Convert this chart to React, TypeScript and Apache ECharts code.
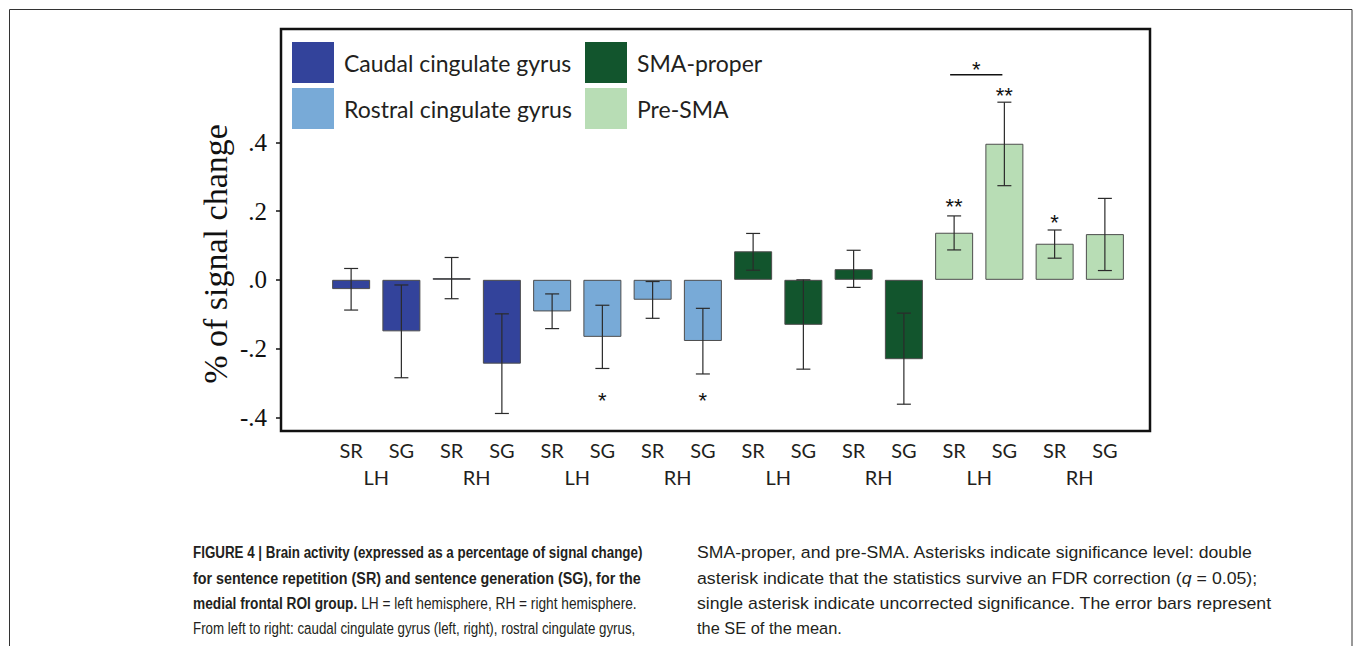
import React, { useEffect, useRef } from "react";
import * as echarts from "echarts";

const categories = ["SR", "SG", "SR", "SG", "SR", "SG", "SR", "SG", "SR", "SG", "SR", "SG", "SR", "SG", "SR", "SG"];
const hemispheres = ["LH", "RH", "LH", "RH", "LH", "RH", "LH", "RH"];
const regions = ["Caudal cingulate gyrus", "Rostral cingulate gyrus", "SMA-proper", "Pre-SMA"];
const regionOfBar = [0, 0, 0, 0, 1, 1, 1, 1, 2, 2, 2, 2, 3, 3, 3, 3];
const meanValues = [-0.027, -0.15, 0.005, -0.244, -0.092, -0.166, -0.058, -0.178, 0.083, -0.131, 0.031, -0.231, 0.137, 0.396, 0.105, 0.133];
const errLower = [-0.088, -0.285, -0.055, -0.389, -0.142, -0.258, -0.112, -0.274, 0.028, -0.26, -0.022, -0.362, 0.087, 0.274, 0.063, 0.027];
const errUpper = [0.033, -0.015, 0.065, -0.099, -0.041, -0.074, -0.005, -0.083, 0.135, 0.0, 0.086, -0.097, 0.186, 0.517, 0.145, 0.237];
const annotIndex = [5, 7, 12, 13, 14];
const annotValue = [-0.338, -0.338, 0.228, 0.55, 0.181];
const annotText = ["*", "*", "**", "**", "*"];
const bracketFrom = [12];
const bracketTo = [13];
const bracketValue = [0.597];
const bracketLabelValue = [0.628];
const bracketText = ["*"];
const yTickValues = [-0.4, -0.2, 0, 0.2, 0.4];
const yTickLabels = ["-.4", "-.2", ".0", ".2", ".4"];
const yMin = -0.44;
const yMax = 0.73;

// caption: each line is a list of [style, text] segments (b = bold, n = normal, i = italic)
const captionLeft: [string, string][][] = [
  [["b", "FIGURE 4 | Brain activity (expressed as a percentage of signal change)"]],
  [["b", "for sentence repetition (SR) and sentence generation (SG), for the"]],
  [["b", "medial frontal ROI group."], ["n", " LH = left hemisphere, RH = right hemisphere."]],
  [["n", "From left to right: caudal cingulate gyrus (left, right), rostral cingulate gyrus,"]],
];
const captionRight: [string, string][][] = [
  [["n", "SMA-proper, and pre-SMA. Asterisks indicate significance level: double"]],
  [["n", "asterisk indicate that the statistics survive an FDR correction ("], ["i", "q"], ["n", " = 0.05);"]],
  [["n", "single asterisk indicate uncorrected significance. The error bars represent"]],
  [["n", "the SE of the mean."]],
];

const regionColors = ["#33439b", "#78aad7", "#12552d", "#b8ddb5"];
const SANS = "Lato, 'Noto Sans', sans-serif";
const SERIF = "'Liberation Serif', 'DejaVu Serif', serif";
const CAP = "'Liberation Sans', Arial, sans-serif";
const CAP_SIZE = 17;
const INK = "#231f20";

const capLeftX = 193;
const capRightX = 697;
const capLeftEnds = [643, 641, 637, 636];
const capRightEnds = [1253, 1257, 1272, 842];
const capLineY = [552, 578, 603, 628];

function segFont(s: string) {
  if (s === "b") return `bold ${CAP_SIZE}px ${CAP}`;
  if (s === "i") return `italic ${CAP_SIZE}px ${CAP}`;
  return `${CAP_SIZE}px ${CAP}`;
}

let measureCtx: CanvasRenderingContext2D | null = null;
function measureLine(segs: [string, string][]) {
  if (!measureCtx) measureCtx = document.createElement("canvas").getContext("2d");
  let w = 0;
  for (const [s, t] of segs) {
    measureCtx!.font = segFont(s);
    w += measureCtx!.measureText(t).width;
  }
  return w;
}

function captionElements(lines: [string, string][][], x0: number, ends: number[]) {
  return lines.map((segs, k) => {
    const natural = measureLine(segs);
    const sx = natural > 0 ? (ends[k] - x0) / natural : 1;
    return {
      type: "text",
      x: x0,
      y: capLineY[k],
      scaleX: sx,
      silent: true,
      style: {
        text: segs.map(([s, t]) => `{${s}|${t}}`).join(""),
        align: "left",
        verticalAlign: "middle",
        rich: {
          b: { fontFamily: CAP, fontWeight: "bold", fontSize: CAP_SIZE, fill: INK },
          n: { fontFamily: CAP, fontSize: CAP_SIZE, fill: INK },
          i: { fontFamily: CAP, fontStyle: "italic", fontSize: CAP_SIZE, fill: INK },
        },
      },
    };
  });
}

export default function App() {
  const ref = useRef<HTMLDivElement>(null);
  useEffect(() => {
    if (!ref.current) return;
    const chart = echarts.init(ref.current, undefined, { renderer: "svg" });

    const barSeries = regions.map((name, r) => ({
      name,
      type: "bar",
      xAxisIndex: 0,
      yAxisIndex: 0,
      barWidth: 38,
      barGap: "-100%",
      data: meanValues.map((v, i) => (regionOfBar[i] === r ? v : "-")),
      itemStyle: { color: regionColors[r], borderColor: "#4d4d4d", borderWidth: 1 },
      z: 2,
    }));

    const errData = meanValues.map((_, i) => [i, errLower[i], errUpper[i]]);
    const annotData = annotIndex.map((i, k) => [i, annotValue[k], annotText[k]]);
    const bracketData = bracketFrom.map((f, k) => [f, bracketTo[k], bracketValue[k], bracketLabelValue[k], bracketText[k]]);
    const starFont = `22px 'Liberation Sans', Arial, sans-serif`;

    const legendCommon = {
      orient: "vertical",
      top: 42,
      padding: 0,
      itemWidth: 42,
      itemHeight: 41,
      itemGap: 5,
      icon: "rect",
      itemStyle: { borderWidth: 0 },
      textStyle: { fontFamily: SANS, fontSize: 23, color: INK, padding: [0, 0, 0, 5] },
      selectedMode: false,
    };

    const option: any = {
      animation: false,
      backgroundColor: "#fff",
      grid: [
        { left: 326, right: 228, top: 29, bottom: 215, show: false },
        { left: 281, right: 208, top: 29, bottom: 215, show: true, borderColor: "#111", borderWidth: 2.5, backgroundColor: "transparent" },
      ],
      legend: [
        { ...legendCommon, data: regions.slice(0, 2), left: 292 },
        { ...legendCommon, data: regions.slice(2, 4), left: 585 },
      ],
      xAxis: [
        {
          type: "category",
          gridIndex: 0,
          data: categories,
          position: "bottom",
          axisLine: { show: false },
          axisTick: { show: false },
          axisLabel: { fontFamily: SANS, fontSize: 20, color: INK, margin: 9 },
        },
        {
          type: "category",
          gridIndex: 0,
          data: hemispheres,
          position: "bottom",
          axisLine: { show: false },
          axisTick: { show: false },
          axisLabel: { fontFamily: SANS, fontSize: 20, color: INK, margin: 36 },
        },
        { type: "value", gridIndex: 1, min: 0, max: 1, show: false },
      ],
      yAxis: [
        { type: "value", gridIndex: 0, min: yMin, max: yMax, show: false },
        {
          type: "value",
          gridIndex: 1,
          min: yMin,
          max: yMax,
          axisLine: { show: false },
          splitLine: { show: false },
          axisTick: { show: true, length: 5, customValues: yTickValues, lineStyle: { color: "#111", width: 1.5 } },
          axisLabel: {
            customValues: yTickValues,
            fontFamily: SERIF,
            fontSize: 25,
            color: "#111",
            margin: 14,
            formatter: (v: number) => {
              const k = yTickValues.findIndex((t) => Math.abs(t - v) < 1e-6);
              return k >= 0 ? yTickLabels[k] : "";
            },
          },
        },
      ],
      series: [
        ...barSeries,
        {
          type: "custom",
          xAxisIndex: 0,
          yAxisIndex: 0,
          z: 5,
          data: errData,
          encode: { x: 0, y: [1, 2] },
          renderItem: (params: any, api: any) => {
            const i = api.value(0);
            const lo = api.coord([i, api.value(1)]);
            const hi = api.coord([i, api.value(2)]);
            const hw = 7;
            const st = { stroke: "#2b2b2b", lineWidth: 1.2 };
            return {
              type: "group",
              children: [
                { type: "line", shape: { x1: hi[0], y1: hi[1], x2: lo[0], y2: lo[1] }, style: st },
                { type: "line", shape: { x1: hi[0] - hw, y1: hi[1], x2: hi[0] + hw, y2: hi[1] }, style: st },
                { type: "line", shape: { x1: lo[0] - hw, y1: lo[1], x2: lo[0] + hw, y2: lo[1] }, style: st },
              ],
            };
          },
        },
        {
          type: "custom",
          xAxisIndex: 0,
          yAxisIndex: 0,
          z: 6,
          data: annotData,
          encode: { x: 0, y: 1 },
          renderItem: (params: any, api: any) => {
            const idx = params.dataIndex;
            const p = api.coord([api.value(0), api.value(1)]);
            return {
              type: "text",
              x: p[0],
              y: p[1] + 5,
              style: { text: annotData[idx][2], font: starFont, fill: "#111", align: "center", verticalAlign: "middle" },
            };
          },
        },
        {
          type: "custom",
          xAxisIndex: 0,
          yAxisIndex: 0,
          z: 6,
          data: bracketData,
          encode: { x: [0, 1], y: [2, 3] },
          renderItem: (params: any, api: any) => {
            const idx = params.dataIndex;
            const a = api.coord([api.value(0), api.value(2)]);
            const b = api.coord([api.value(1), api.value(2)]);
            const t = api.coord([api.value(0), api.value(3)]);
            return {
              type: "group",
              children: [
                { type: "line", shape: { x1: a[0] - 4, y1: a[1], x2: b[0] - 2, y2: b[1] }, style: { stroke: "#111", lineWidth: 1.5 } },
                {
                  type: "text",
                  x: (a[0] + b[0]) / 2 - 3,
                  y: t[1] + 5,
                  style: { text: bracketData[idx][4], font: starFont, fill: "#111", align: "center", verticalAlign: "middle" },
                },
              ],
            };
          },
        },
      ],
      graphic: [
        {
          type: "rect",
          shape: { x: 9.5, y: 9.5, width: 1342.5, height: 720 },
          style: { fill: "none", stroke: "#333", lineWidth: 1 },
          silent: true,
        },
        {
          type: "text",
          x: 215,
          y: 254,
          rotation: Math.PI / 2,
          style: { text: "% of signal change", font: `34px ${SERIF}`, fill: "#111", align: "center", verticalAlign: "middle" },
        },
        ...captionElements(captionLeft, capLeftX, capLeftEnds),
        ...captionElements(captionRight, capRightX, capRightEnds),
      ],
    };
    chart.setOption(option);
    return () => chart.dispose();
  }, []);
  return <div ref={ref} style={{ position: "fixed", left: 0, top: 0, width: 1358, height: 646, background: "#fff" }} />;
}
